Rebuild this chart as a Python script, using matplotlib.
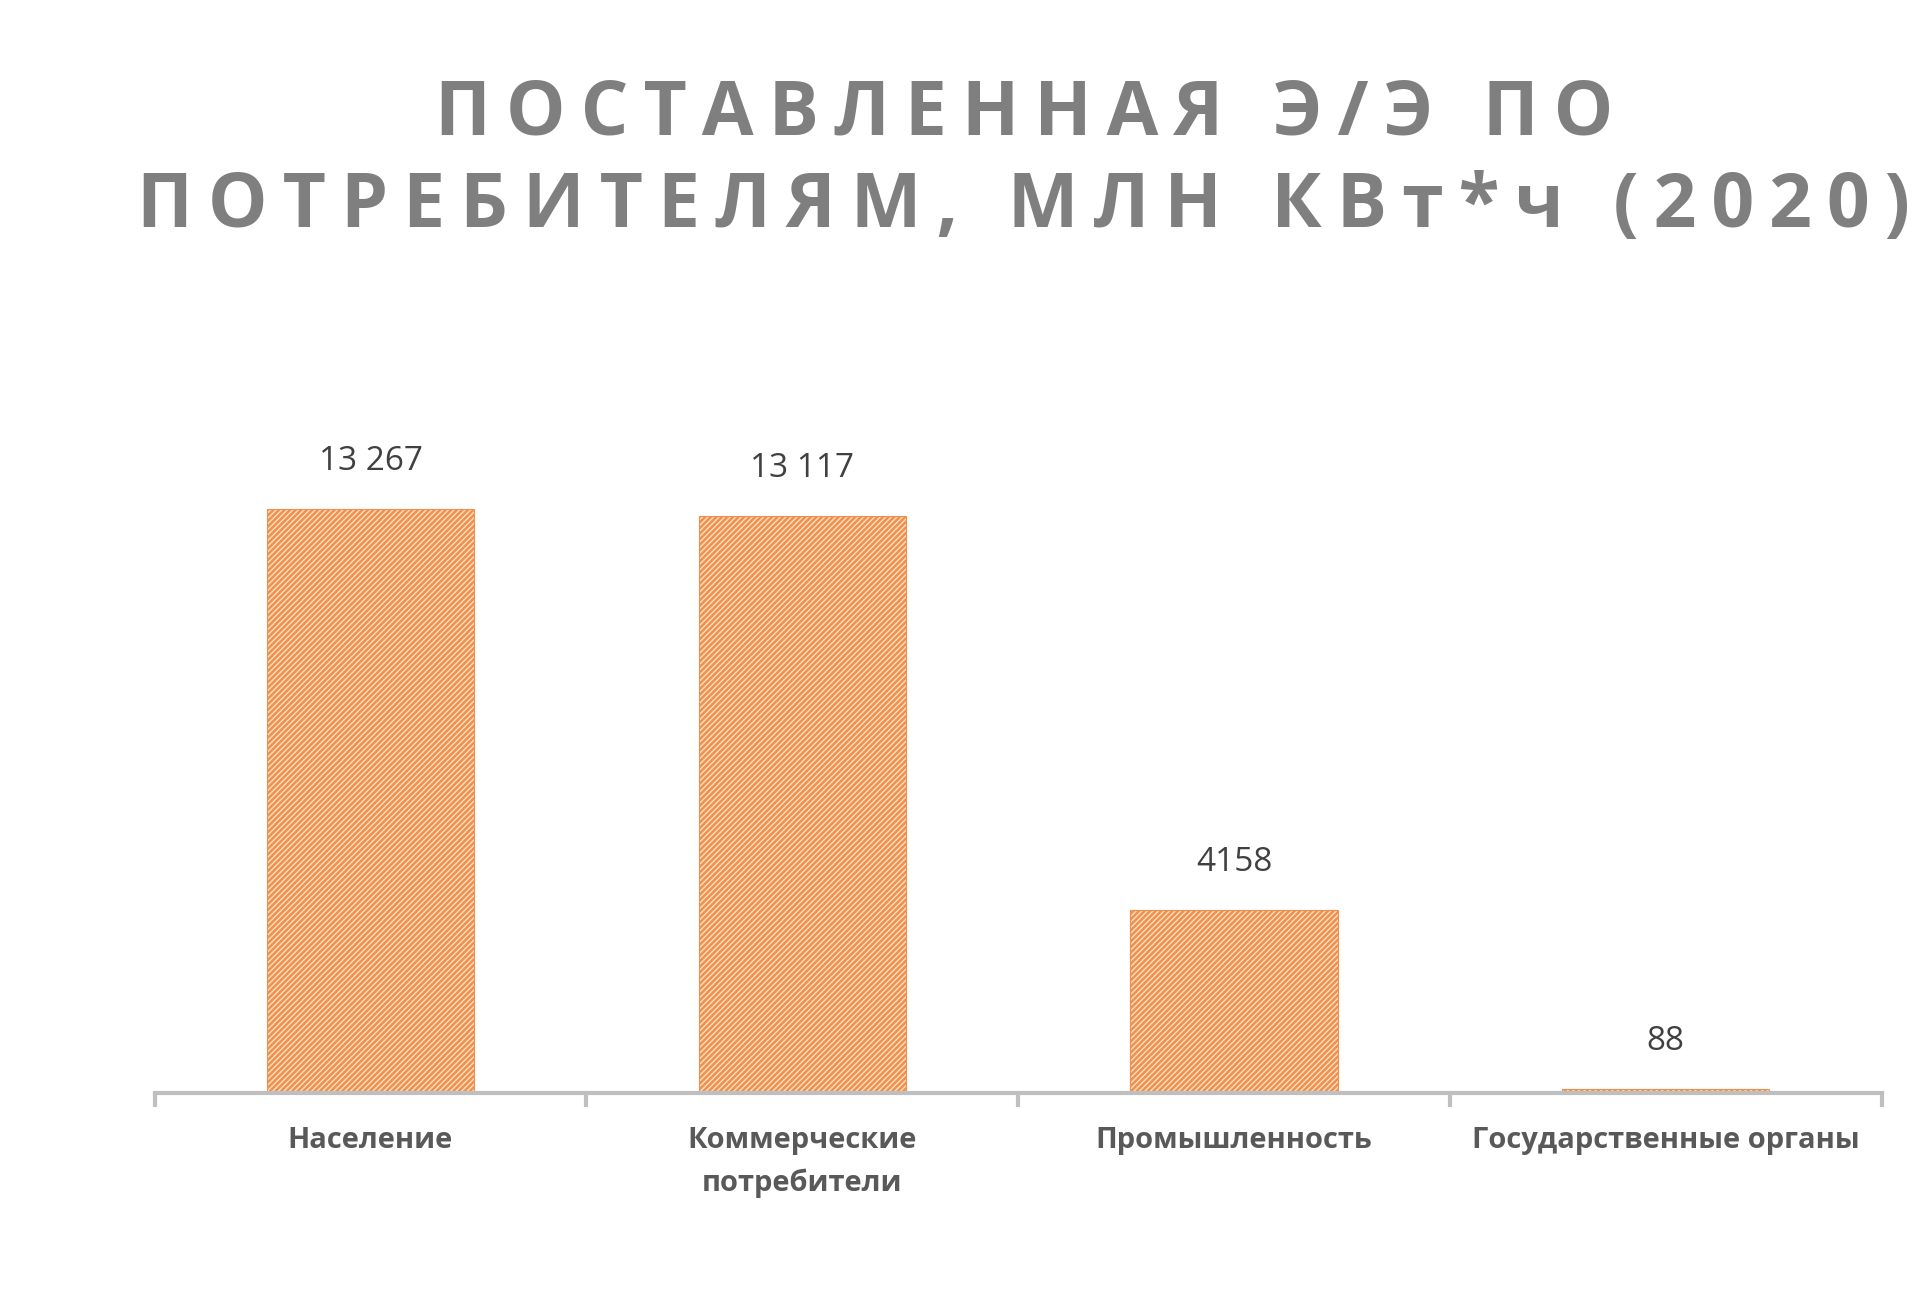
import matplotlib
matplotlib.use("Agg")
import matplotlib.pyplot as plt
import numpy as np

categories = ["Население", "Коммерческие\nпотребители", "Промышленность", "Государственные органы"]
values = [13267, 13117, 4158, 88]
labels = ["13 267", "13 117", "4158", "88"]
title = "ПОСТАВЛЕННАЯ Э/Э ПО\nПОТРЕБИТЕЛЯМ, МЛН КВт*ч (2020)"

plt.rcParams['font.family'] = ['Open Sans', 'DejaVu Sans']
plt.rcParams['hatch.linewidth'] = 1.8

fig = plt.figure(figsize=(19.32, 12.92), dpi=100)
ax = fig.add_axes([0.080, 0.154, 0.894, 0.56])
x = np.arange(len(categories))
ax.bar(x, values, width=0.48, facecolor='#fde0c8', edgecolor='#f0904a',
       hatch='//////', linewidth=0.8)
for xi, v, l in zip(x, values, labels):
    ax.text(xi, v + 700, l, ha='center', va='bottom', fontsize=24, color='#404040')
ax.set_xlim(-0.5, len(categories) - 0.5)
ax.set_ylim(0, 16437)
for s in ['top', 'right', 'left']:
    ax.spines[s].set_visible(False)
ax.spines['bottom'].set_color('#bfbfbf')
ax.spines['bottom'].set_linewidth(3)
ax.set_yticks([])
ax.set_xticks(np.arange(len(categories) + 1) - 0.5, minor=False)
ax.set_xticklabels([])
ax.tick_params(axis='x', which='major', length=10, width=3, color='#bfbfbf', direction='out')
ax.set_xticks(x, minor=True)
ax.set_xticklabels(categories, minor=True, fontsize=21, fontweight='bold', color='#595959',
                   linespacing=1.6)
ax.tick_params(axis='x', which='minor', length=0, pad=24)
spaced = "\n".join("\u2009".join(line) for line in title.split("\n"))
fig.text(0.53, 0.875, spaced, ha='center', va='center', fontsize=54, fontweight='bold',
         color='#7f7f7f', linespacing=1.3, family=['Open Sans', 'DejaVu Sans'])
fig.savefig("out.png", dpi=100, facecolor='white')
